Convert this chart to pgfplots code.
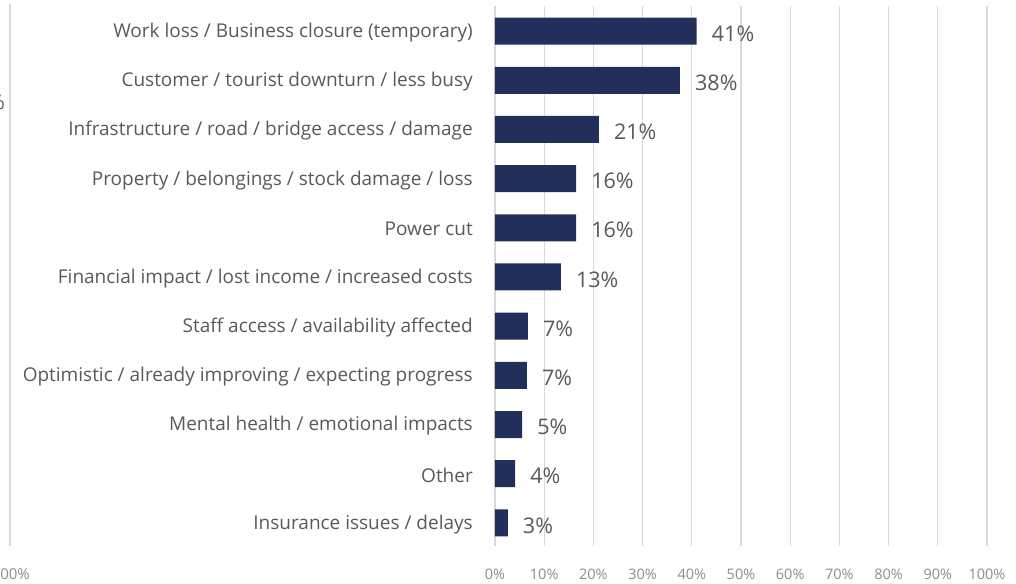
\documentclass[border=0pt]{standalone}
\usepackage{pgfplots}
\pgfplotsset{compat=1.18}
\usepackage{fontspec}
\setmainfont{Open Sans}
\definecolor{barnavy}{HTML}{222F5B}
\definecolor{cattext}{HTML}{595959}
\definecolor{ticktext}{HTML}{8C8C8C}
\definecolor{gridgray}{HTML}{D9D9D9}
\begin{document}
\begin{tikzpicture}
\begin{axis}[
  name=ax,
  scale only axis,
  width=492bp, height=540bp,
  xbar, bar width=27bp,
  xmin=0, xmax=100,
  ymin=-0.47, ymax=10.51,
  axis line style={draw=none},
  xmajorgrids, major grid style={gridgray, line width=1.3pt},
  xtick={0,10,...,100},
  xticklabel={\pgfmathprintnumber[assume math mode=true]{\tick}\%},
  xticklabel style={font=\fontsize{14.5bp}{16bp}\selectfont, text=ticktext, anchor=north, inner sep=0pt, yshift=-23bp},
  ytick={0,...,10},
  yticklabels={Insurance issues / delays, Other, Mental health / emotional impacts, Optimistic / already improving / expecting progress, Staff access / availability affected, Financial impact / lost income / increased costs, Power cut, Property / belongings / stock damage / loss, Infrastructure / road / bridge access / damage, Customer / tourist downturn / less busy, Work loss / Business closure (temporary)},
  yticklabel style={font=\fontsize{19bp}{22bp}\selectfont, text=cattext, anchor=east, inner sep=0pt, xshift=-22bp, yshift=-1.5bp},
  major tick length=0pt,
  nodes near coords,
  point meta=explicit symbolic,
  nodes near coords style={font=\fontsize{21.5bp}{24bp}\selectfont, text=cattext, anchor=west, inner sep=0pt, xshift=15bp, yshift=-2.5bp},
]
\addplot[fill=barnavy, draw=none] table[x=x, y=y, meta=lab] {
y x lab
10 41.0 41\%
9 37.6 38\%
8 21.1 21\%
7 16.5 16\%
6 16.5 16\%
5 13.4 13\%
4 6.7 7\%
3 6.5 7\%
2 5.5 5\%
1 4.1 4\%
0 2.6 3\%
};
\end{axis}
% remnants of a neighbouring chart, cut by the page edge
\draw[gridgray, line width=1.3pt] ([xshift=-485bp,yshift=2bp]ax.north west) -- ([xshift=-485bp]ax.south west);
\node[anchor=east, inner sep=0pt, text=cattext, font=\fontsize{20bp}{22bp}\selectfont] at ([xshift=-490bp,yshift=-96bp]ax.north west) {0\%};
\node[anchor=east, inner sep=0pt, text=ticktext, font=\fontsize{15bp}{16bp}\selectfont] at ([xshift=-465bp,yshift=-28bp]ax.south west) {100\%};
\pgfresetboundingbox
\path ([xshift=-495bp,yshift=-38bp]ax.south west) rectangle ([xshift=29bp,yshift=6bp]ax.north east);
\end{tikzpicture}
\end{document}
